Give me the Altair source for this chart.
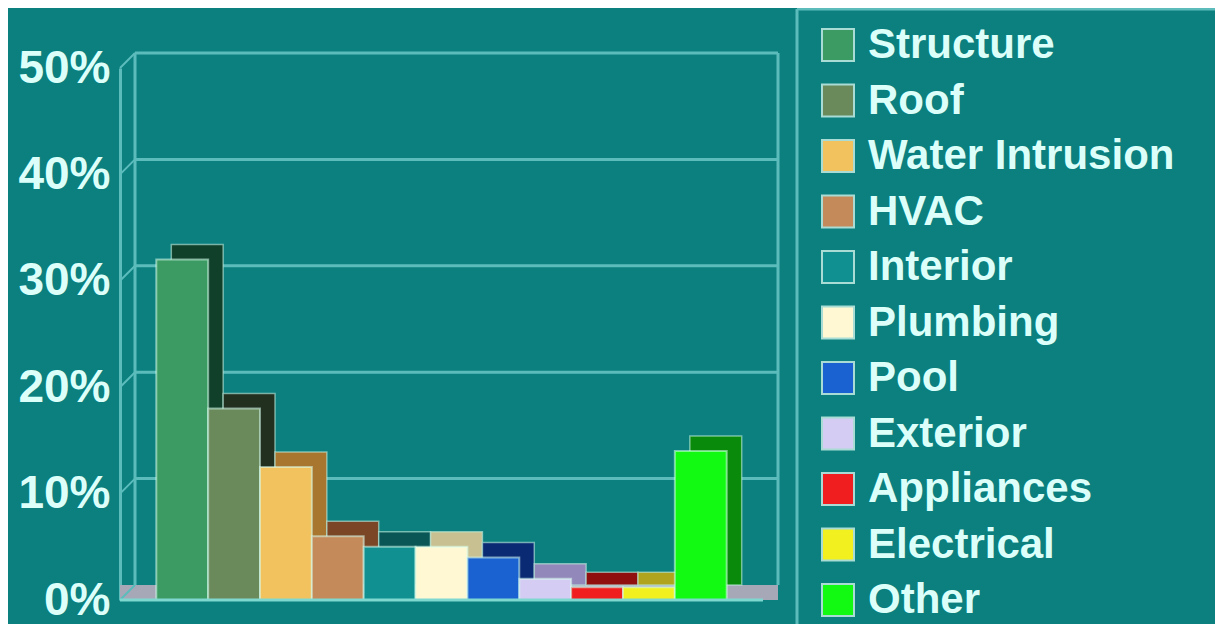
import altair as alt
import pandas as pd

categories = ["Structure", "Roof", "Water Intrusion", "HVAC", "Interior", "Plumbing",
              "Pool", "Exterior", "Appliances", "Electrical", "Other"]
values = [0.32, 0.18, 0.125, 0.06, 0.05, 0.05, 0.04, 0.02, 0.012, 0.012, 0.14]
front_colors = ["#3c9b62", "#6b8a5c", "#f2c25e", "#c48a5a", "#109090", "#fff8d2",
                "#1a62d2", "#d4ccf2", "#f01e1e", "#f2f01e", "#12fa12"]
side_colors = ["#10402a", "#22301f", "#a8762e", "#7a4626", "#0a5656", "#c8c090",
               "#0a2a74", "#9288ba", "#901010", "#b0a41e", "#0a8a0a"]
tick_values = [0, 0.1, 0.2, 0.3, 0.4, 0.5]
grid_values = [0.1, 0.2, 0.3, 0.4, 0.5]

W, H = 643, 532
DX, DY = 15, 15
BG = "#0b807f"
LINE = "#5cbcbc"
TEXT = "#dcfffa"
FONT = "Liberation Sans"
LEG_X, LEG_Y = 677, -59

bars = pd.DataFrame({"category": categories, "value": values, "side": side_colors})
ticks = pd.DataFrame({"v": tick_values, "v2": tick_values})
grid = pd.DataFrame({"v": grid_values})
span = pd.DataFrame({"lo": [tick_values[0]], "hi": [tick_values[-1]]})

yaxis = alt.Axis(values=tick_values, format=".0%", title=None, grid=False,
                 ticks=False, domainColor=LINE, domainWidth=3,
                 labelFont=FONT, labelFontWeight="bold", labelFontSize=46,
                 labelColor=TEXT, labelPadding=10)
yscale = alt.Scale(domain=[0, 0.5])

xenc = alt.X("category:N", sort=categories, axis=None,
             scale=alt.Scale(paddingInner=0, paddingOuter=0.7))

floor = alt.Chart(span).mark_rect(color="#a6a8b8", yOffset=-DY).encode(
    y=alt.Y("lo:Q", axis=yaxis, scale=yscale), y2=alt.Y2("lo"),
    x=alt.value(0), x2=alt.value(W + DX))

gridlines = alt.Chart(grid).mark_rule(color=LINE, strokeWidth=3, yOffset=-DY).encode(
    y=alt.Y("v:Q", axis=yaxis, scale=yscale), x=alt.value(DX), x2=alt.value(W + DX))

connectors = alt.Chart(ticks).mark_rule(color=LINE, strokeWidth=2, y2Offset=-DY).encode(
    y=alt.Y("v:Q", axis=yaxis, scale=yscale), y2=alt.Y2("v2"), x=alt.value(0), x2=alt.value(DX))

wall_left = alt.Chart(span).mark_rule(color=LINE, strokeWidth=3, yOffset=-DY, y2Offset=-DY).encode(
    x=alt.value(DX), y=alt.Y("lo:Q", axis=yaxis, scale=yscale), y2=alt.Y2("hi"))
wall_right = alt.Chart(span).mark_rule(color=LINE, strokeWidth=3, yOffset=-DY, y2Offset=-DY).encode(
    x=alt.value(W + DX), y=alt.Y("lo:Q", axis=yaxis, scale=yscale), y2=alt.Y2("hi"))

# legend frame (left and top edges only; the box runs off the picture)
frame_left = alt.Chart(span).mark_rule(color=LINE, strokeWidth=3).encode(
    x=alt.value(LEG_X), y=alt.value(LEG_Y), y2=alt.value(H + 40))
frame_top = alt.Chart(span).mark_rule(color=LINE, strokeWidth=3).encode(
    x=alt.value(LEG_X), x2=alt.value(W + 500), y=alt.value(LEG_Y))

shadow = alt.Chart(bars).mark_bar(xOffset=DX, yOffset=-DY, y2Offset=-DY,
                                  stroke="#bfeee0", strokeOpacity=0.6, strokeWidth=1.5).encode(
    x=xenc, y=alt.Y("value:Q", axis=yaxis, scale=yscale), fill=alt.Fill("side:N", scale=None))

front = alt.Chart(bars).mark_bar(stroke="#d8fff0", strokeOpacity=0.55, strokeWidth=2).encode(
    x=xenc,
    y=alt.Y("value:Q", axis=yaxis, scale=yscale),
    color=alt.Color("category:N", sort=categories,
                    scale=alt.Scale(domain=categories, range=front_colors),
                    legend=alt.Legend(title=None, orient="none", legendX=LEG_X, legendY=-64,
                                      padding=20,
                                      symbolType="square", symbolSize=1024,
                                      symbolStrokeColor="#a8dcd4", symbolStrokeWidth=2,
                                      labelFont=FONT, labelFontWeight="bold",
                                      labelFontSize=42, labelColor=TEXT,
                                      labelOffset=9, labelLimit=500, rowPadding=13.5)))

base_line = alt.Chart(span).mark_rule(color="#7ed8d0", strokeWidth=3).encode(
    y=alt.Y("lo:Q", axis=yaxis, scale=yscale), x=alt.value(0), x2=alt.value(W))

chart = alt.layer(floor, gridlines, connectors, wall_left, wall_right, frame_left, frame_top,
                  shadow, front, base_line).properties(
    width=W, height=H, background=BG,
    autosize=alt.AutoSizeParams(type="none"),
    padding={"left": 112, "top": 60, "right": 452, "bottom": 24},
).configure_view(stroke=None)

chart.save("out.html", embed_options={"renderer": "svg", "actions": False})
